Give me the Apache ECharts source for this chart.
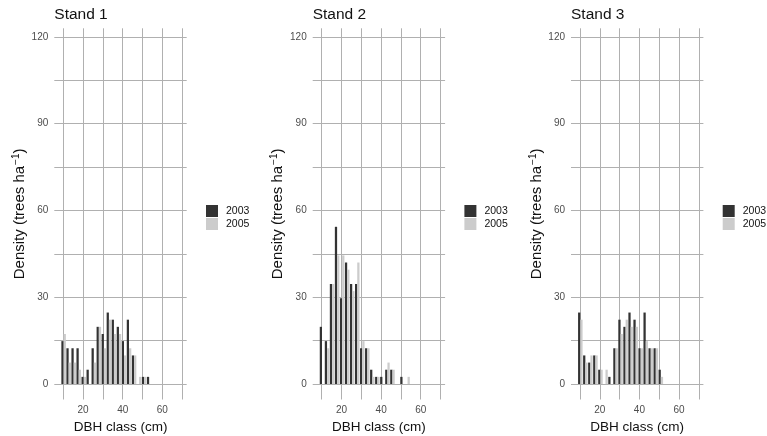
<!DOCTYPE html>
<html>
<head>
<meta charset="utf-8">
<script src="https://cdn.jsdelivr.net/npm/echarts@6/dist/echarts.min.js"></script>
<style>html,body{margin:0;padding:0;background:#fff}#c{width:767px;height:436px}</style>
</head>
<body>
<div id="c"></div>
<script>
// DBH class midpoints (cm) – 1-inch classes 4"..21"
const classCm = [10.16,12.70,15.24,17.78,20.32,22.86,25.40,27.94,30.48,33.02,35.56,38.10,40.64,43.18,45.72,48.26,50.80,53.34];
const standNames = ['Stand 1','Stand 2','Stand 3'];
const seriesNames = ['2003','2005'];
// Density (trees ha^-1)
const stand1_2003 = [14.83,12.36,12.36,12.36,2.47,4.94,12.36,19.77,17.30,24.71,22.24,19.77,14.83,22.24,9.88,0,2.47,2.47];
const stand1_2005 = [17.30,7.41,7.41,4.94,2.47,0,7.41,19.77,12.36,22.24,17.30,17.30,9.88,12.36,9.88,2.47,2.47,0];
const stand2_2003 = [19.77,14.83,34.59,54.36,29.65,42.01,34.59,34.59,12.36,12.36,4.94,2.47,2.47,4.94,4.94,0,2.47,0];
const stand2_2005 = [0,12.36,34.59,44.48,44.48,39.54,32.12,42.01,14.83,12.36,2.47,2.47,0,7.41,4.94,0,0,2.47];
const stand3_2003 = [24.71,9.88,7.41,9.88,4.94,0,2.47,12.36,22.24,19.77,24.71,22.24,12.36,24.71,12.36,12.36,4.94,0];
const stand3_2005 = [22.24,7.41,9.88,9.88,4.94,4.94,0,12.36,17.30,22.24,19.77,19.77,12.36,14.83,12.36,12.36,2.47,0];
const xGridValues = [10,20,30,40,50,60,70];
const xTickLabels = [20,40,60];
const yGridValues = [0,15,30,45,60,75,90,105,120];
const yTickLabels = [0,30,60,90,120];

const standData = [[stand1_2003,stand1_2005],[stand2_2003,stand2_2005],[stand3_2003,stand3_2005]];
const colors = ['#333333','#cccccc'];
const FONT = '"Liberation Sans", Arial, sans-serif';
const panelLeft = [54.3, 312.7, 571.0];
const panelW = 132.4;
const gridTop = 28.3, gridBottom = 36.5;

const grids = [], xAxes = [], yAxes = [], series = [], titles = [], legends = [];
for (let i = 0; i < 3; i++) {
  grids.push({left: panelLeft[i], top: gridTop, width: panelW, bottom: gridBottom, containLabel: false, outerBoundsMode: 'none'});
  titles.push({text: standNames[i], left: panelLeft[i], top: 7, padding: 0,
    textStyle: {fontSize: 15.5, fontWeight: 'normal', color: '#111', fontFamily: FONT}});
  xAxes.push({type: 'value', gridIndex: i, min: 5.45, max: 72.3,
    axisLine: {show: false}, axisTick: {show: false, customValues: xGridValues},
    axisLabel: {customValues: xTickLabels, color: '#4d4d4d', fontSize: 10, margin: 6, fontFamily: FONT},
    splitLine: {show: true, lineStyle: {color: '#b0b0b0', width: 1}},
    name: 'DBH class (cm)', nameLocation: 'middle', nameGap: 19,
    nameTextStyle: {fontSize: 13.5, color: '#111', fontFamily: FONT}});
  yAxes.push({type: 'value', gridIndex: i, min: -5.36, max: 123,
    axisLine: {show: false}, axisTick: {show: false, customValues: yGridValues},
    axisLabel: {customValues: yTickLabels, color: '#4d4d4d', fontSize: 10, margin: 6, fontFamily: FONT},
    splitLine: {show: true, lineStyle: {color: '#b0b0b0', width: 1}},
    name: 'Density (trees ha{sup|\u22121})', nameLocation: 'middle', nameGap: 26,
    nameTextStyle: {fontSize: 15, color: '#111', fontFamily: FONT,
      rich: {sup: {fontSize: 10, color: '#111', fontFamily: FONT, verticalAlign: 'top', padding: [0,0,7,1]}}}});
  for (let s = 0; s < 2; s++) {
    series.push({type: 'bar', name: seriesNames[s], xAxisIndex: i, yAxisIndex: i,
      data: classCm.map((x, j) => [x, standData[i][s][j]]),
      barWidth: '45%', barGap: '0%', itemStyle: {color: colors[s]}, silent: true, animation: false});
  }
  legends.push({data: seriesNames, orient: 'vertical', left: panelLeft[i] + 151.7, top: 205, padding: 0,
    itemWidth: 12, itemHeight: 12, itemGap: 1, icon: 'rect', selectedMode: false,
    textStyle: {fontSize: 10.5, color: '#111', fontFamily: FONT, padding: [0,0,0,3]}});
}

const chart = echarts.init(document.getElementById('c'), null, {renderer: 'canvas'});
chart.setOption({animation: false, backgroundColor: '#fff', textStyle: {fontFamily: FONT},
  title: titles, legend: legends, grid: grids, xAxis: xAxes, yAxis: yAxes, series: series});
</script>
</body>
</html>
